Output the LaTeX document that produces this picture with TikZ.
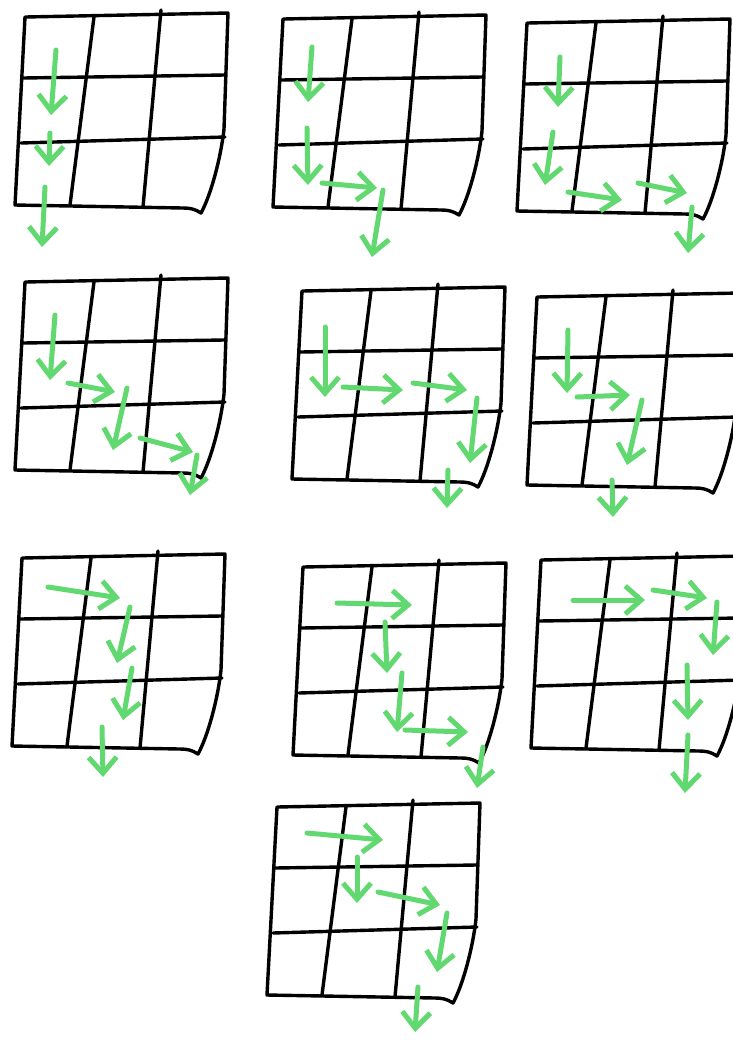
\documentclass[tikz,border=0pt]{standalone}
\usepackage{tikz}
\usetikzlibrary{arrows.meta}
\definecolor{marker}{HTML}{62D870}

\begin{document}
\begin{tikzpicture}[
  x=0.5pt,y=-0.5pt,
  gridline/.style={draw=black,line width=1.7pt,line join=round,line cap=round},
  trail/.style={draw=marker,line width=2.5pt,line cap=round,line join=round,-{Straight Barb[length=8pt,width=14pt,line width=2.5pt]}},
  sketchgrid/.pic={
    \draw[gridline] (0,0) -- (203,-4) -- (199,112) .. controls (196,140) and (186,178) .. (176,196)
      .. controls (170,192) and (165,191) .. (158,191) -- (-10,188) -- cycle;
    \draw[gridline] (69,0) -- (45,188);
    \draw[gridline] (136,-7) -- (118,190);
    \draw[gridline] (-2,61) -- (199,58);
    \draw[gridline] (-4,126) -- (200,120);
  }
]
\useasboundingbox[fill=white] (0,0) rectangle (733,1041);
% the ten grids
\foreach \gx/\gy in {25/17,283/19,527/23,25/282,302/291,537/297,22/558,303/567,541/560,277/807}
  \pic at (\gx,\gy) {sketchgrid};
% grid 1
\draw[trail] (56,50) -- (51,115);
\draw[trail] (50,133) -- (49,166);
\draw[trail] (45,187) -- (42,247);
% grid 2
\draw[trail] (312,47) -- (308,102);
\draw[trail] (307,128) -- (308,185);
\draw[trail] (322,183) -- (377,188);
\draw[trail] (383,190) -- (372,257);
% grid 3
\draw[trail] (560,57) -- (558,107);
\draw[trail] (553,132) -- (545,185);
\draw[trail] (568,192) -- (622,200);
\draw[trail] (638,183) -- (687,193);
\draw[trail] (692,207) -- (688,253);
% grid 4
\draw[trail] (55,315) -- (50,380);
\draw[trail] (68,383) -- (115,392);
\draw[trail] (127,388) -- (113,450);
\draw[trail] (140,438) -- (193,452);
\draw[trail] (197,455) -- (190,495);
% grid 5
\draw[trail] (325,327) -- (325,397);
\draw[trail] (343,387) -- (403,390);
\draw[trail] (413,383) -- (467,390);
\draw[trail] (477,398) -- (470,463);
\draw[trail] (448,470) -- (447,508);
% grid 6
\draw[trail] (568,330) -- (567,393);
\draw[trail] (577,397) -- (630,395);
\draw[trail] (642,400) -- (627,465);
\draw[trail] (612,480) -- (613,517);
% grid 7
\draw[trail] (48,587) -- (120,598);
\draw[trail] (130,607) -- (117,663);
\draw[trail] (132,668) -- (123,720);
\draw[trail] (102,727) -- (103,777);
% grid 8
\draw[trail] (337,603) -- (412,605);
\draw[trail] (385,622) -- (387,673);
\draw[trail] (402,673) -- (397,732);
\draw[trail] (405,730) -- (468,732);
\draw[trail] (483,747) -- (477,788);
% grid 9
\draw[trail] (573,600) -- (645,600);
\draw[trail] (653,590) -- (707,598);
\draw[trail] (717,602) -- (713,655);
\draw[trail] (687,665) -- (688,720);
\draw[trail] (688,735) -- (685,793);
% grid 10
\draw[trail] (307,833) -- (383,840);
\draw[trail] (357,857) -- (357,903);
\draw[trail] (378,892) -- (440,905);
\draw[trail] (447,913) -- (437,972);
\draw[trail] (418,987) -- (415,1032);
\end{tikzpicture}
\end{document}
